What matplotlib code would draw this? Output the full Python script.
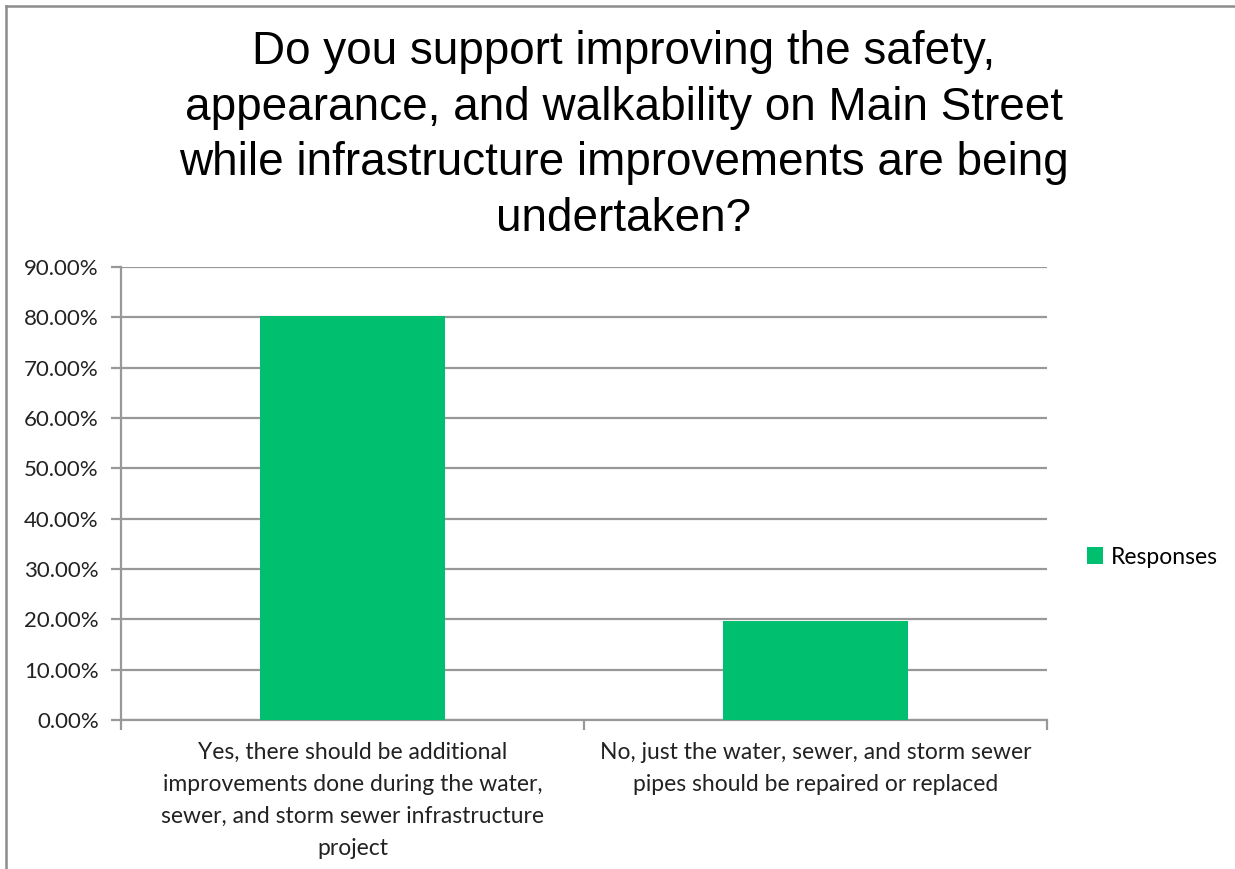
import matplotlib.pyplot as plt
from matplotlib.lines import Line2D
from matplotlib.patches import Patch

# données
categories = [
    "Yes, there should be additional\nimprovements done during the water,\nsewer, and storm sewer infrastructure\nproject",
    "No, just the water, sewer, and storm sewer\npipes should be repaired or replaced",
]
responses = [80.27, 19.73]
yticks = [0, 10, 20, 30, 40, 50, 60, 70, 80, 90]
title = ("Do you support improving the safety,\nappearance, and walkability on Main Street\n"
         "while infrastructure improvements are being\nundertaken?")
series_name = "Responses"

green = "#00BF6F"
grid_col = "#989898"
label_font = "Lato"

fig = plt.figure(figsize=(12.35, 8.69), dpi=100)
ax = fig.add_axes([121 / 1235, 1 - 720 / 869, 926 / 1235, 453 / 869])

x = range(len(categories))
ax.bar(x, responses, width=0.4, color=green, zorder=3)

ax.set_xlim(-0.5, len(categories) - 0.5)
ax.set_ylim(0, 90)
ax.set_yticks(yticks)
ax.set_yticklabels([f"{v:.2f}%" for v in yticks], fontsize=16, family=label_font, color="#222222")
ax.yaxis.grid(True, color=grid_col, linewidth=1.6, zorder=0)

# étiquettes de catégories + graduations entre catégories
ax.set_xticks([-0.5, 0.5, 1.5])
ax.set_xticklabels([])
ax.set_xticks(list(x), minor=True)
ax.set_xticklabels(categories, minor=True, fontsize=16.5, family=label_font,
                   color="#222222", linespacing=1.65)
ax.tick_params(axis="x", which="minor", length=0, pad=16)
ax.tick_params(axis="x", which="major", length=7, width=1.6, color=grid_col)
ax.tick_params(axis="y", length=7, width=1.6, color=grid_col, pad=9)

for side in ["top", "right"]:
    ax.spines[side].set_visible(False)
for side in ["left", "bottom"]:
    ax.spines[side].set_color(grid_col)
    ax.spines[side].set_linewidth(1.6)

fig.text(624 / 1235, 1 - 30 / 869, title, ha="center", va="top", fontsize=33,
         family="Liberation Sans", color="#000000", linespacing=1.34)

handles = [Patch(facecolor=green, edgecolor="none")]
fig.legend(handles, [series_name], loc="center left", bbox_to_anchor=(1066 / 1235, 1 - 557 / 869),
           frameon=False, prop={"family": label_font, "size": 16.5},
           handlelength=0.7, handleheight=0.7, handletextpad=0.35)

# bordure de la zone de graphique (coupée)
fig.add_artist(Line2D([6 / 1235, 1], [1 - 6 / 869, 1 - 6 / 869], color="#8c8c8c", linewidth=1.8))
fig.add_artist(Line2D([6 / 1235, 6 / 1235], [0, 1 - 6 / 869], color="#8c8c8c", linewidth=1.8))

fig.savefig("out.png", dpi=100)
